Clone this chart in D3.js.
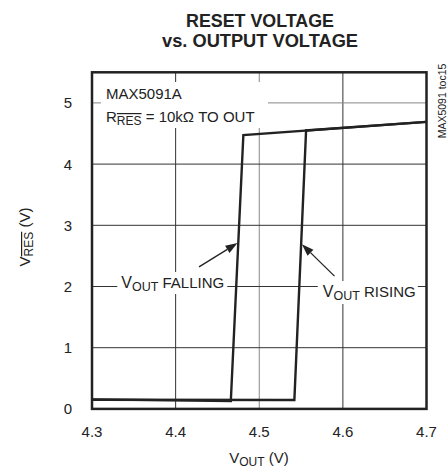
<!DOCTYPE html>
<html><head><meta charset="utf-8">
<script src="https://cdn.jsdelivr.net/npm/d3@7/dist/d3.min.js"></script>
<style>body{margin:0;background:#fff}svg{display:block}text{font-family:"Liberation Sans",Arial,sans-serif;fill:#222}</style>
</head><body><svg id="c" width="448" height="471"></svg>
<script>
// Data
const xTicks = [4.3, 4.4, 4.5, 4.6, 4.7];
const yTicks = [0, 1, 2, 3, 4, 5];
const fallingX = [4.70, 4.481, 4.466, 4.30];
const fallingY = [4.69, 4.475, 0.13, 0.155];
const risingX = [4.30, 4.542, 4.556, 4.70];
const risingY = [0.15, 0.145, 4.55, 4.69];

const svg = d3.select('#c');
const x = d3.scaleLinear().domain([4.3, 4.7]).range([92, 426.5]);
const y = d3.scaleLinear().domain([0, 5.5]).range([408.9, 72.3]);
const ink = '#222';

// gridlines
const g = svg.append('g');
g.selectAll('.vg').data(xTicks.slice(1, -1)).join('line')
  .attr('x1', d => x(d)).attr('x2', d => x(d)).attr('y1', y(5.5)).attr('y2', y(0))
  .attr('stroke', d => d === 4.5 ? '#888' : '#333').attr('stroke-width', 1);
g.selectAll('.hg').data(yTicks.slice(1)).join('line')
  .attr('x1', x(4.3)).attr('x2', x(4.7)).attr('y1', d => y(d)).attr('y2', d => y(d))
  .attr('stroke', d => d === 5 ? '#888' : '#333').attr('stroke-width', 1);

// white boxes behind labels
function box(x0, y0, w, h) {
  svg.append('rect').attr('x', x0).attr('y', y0).attr('width', w).attr('height', h).attr('fill', '#fff');
}
box(x(4.3) + 9, 82, 167, 46);

// curves
const line = d3.line().x(d => x(d[0])).y(d => y(d[1]));
const fall = fallingX.map((v, i) => [v, fallingY[i]]);
const rise = risingX.map((v, i) => [v, risingY[i]]);
svg.append('path').attr('d', line(fall)).attr('fill', 'none').attr('stroke', ink).attr('stroke-width', 2.4).attr('stroke-linejoin', 'miter');
svg.append('path').attr('d', line(rise)).attr('fill', 'none').attr('stroke', ink).attr('stroke-width', 2.4).attr('stroke-linejoin', 'miter');

// label boxes (break gridlines)
box(x(4.335) - 4, 272, 110, 22);
box(x(4.576) - 5, 281, 100, 23);

// frame
svg.append('rect').attr('x', x(4.3)).attr('y', y(5.5)).attr('width', x(4.7) - x(4.3)).attr('height', y(0) - y(5.5))
  .attr('fill', 'none').attr('stroke', ink).attr('stroke-width', 2.5);

// tick labels
svg.selectAll('.xt').data(xTicks).join('text')
  .attr('x', d => x(d)).attr('y', 437).attr('text-anchor', 'middle').attr('font-size', 15).text(d => d.toFixed(1));
svg.selectAll('.yt').data(yTicks).join('text')
  .attr('x', 72).attr('y', d => y(d) + 5.5).attr('text-anchor', 'end').attr('font-size', 15).text(d => d);

// title
svg.append('text').attr('x', 260).attr('y', 27).attr('text-anchor', 'middle').attr('font-size', 18).attr('font-weight', 'bold')
  .attr('textLength', 148).attr('lengthAdjust', 'spacingAndGlyphs').text('RESET VOLTAGE');
svg.append('text').attr('x', 260).attr('y', 47).attr('text-anchor', 'middle').attr('font-size', 18).attr('font-weight', 'bold')
  .attr('textLength', 196).attr('lengthAdjust', 'spacingAndGlyphs').text('vs. OUTPUT VOLTAGE');

// axis labels
const xl = svg.append('text').attr('x', 259).attr('y', 463).attr('text-anchor', 'middle').attr('font-size', 15);
xl.append('tspan').text('V');
xl.append('tspan').attr('font-size', 12).attr('dy', 3).text('OUT');
xl.append('tspan').attr('dy', -3).text(' (V)');

const yl = svg.append('text').attr('transform', 'translate(30,237) rotate(-90)').attr('text-anchor', 'middle').attr('font-size', 15);
yl.append('tspan').text('V');
yl.append('tspan').attr('font-size', 12).attr('dy', 3).attr('text-decoration', 'overline').text('RES');
yl.append('tspan').attr('dy', -3).text(' (V)');

// side id
svg.append('text').attr('transform', 'translate(445.5,101) rotate(-90)').attr('text-anchor', 'middle').attr('font-size', 10.5).text('MAX5091 toc15');

// annotations
svg.append('text').attr('x', 106).attr('y', 99).attr('font-size', 15).text('MAX5091A');
const r = svg.append('text').attr('x', 106).attr('y', 122).attr('font-size', 15);
r.append('tspan').text('R');
r.append('tspan').attr('font-size', 12).attr('dy', 3).attr('text-decoration', 'overline').text('RES');
r.append('tspan').attr('dy', -3).text(' = 10kΩ TO OUT');

const f = svg.append('text').attr('x', x(4.335)).attr('y', y(1.98)).attr('font-size', 15);
f.append('tspan').attr('font-size', 16).text('V');
f.append('tspan').attr('font-size', 12.5).attr('dy', 3).text('OUT');
f.append('tspan').attr('dy', -3).text(' FALLING');

const rs = svg.append('text').attr('x', x(4.576)).attr('y', y(1.83)).attr('font-size', 15);
rs.append('tspan').attr('font-size', 16).text('V');
rs.append('tspan').attr('font-size', 12.5).attr('dy', 3).text('OUT');
rs.append('tspan').attr('dy', -3).text(' RISING');

// arrows
function arrow(x0, y0, x1, y1) {
  const X0 = x(x0), Y0 = y(y0), X1 = x(x1), Y1 = y(y1);
  const a = Math.atan2(Y1 - Y0, X1 - X0), L = 12, W = 4.2;
  const bx = X1 - L * Math.cos(a), by = Y1 - L * Math.sin(a);
  svg.append('line').attr('x1', X0).attr('y1', Y0).attr('x2', bx).attr('y2', by).attr('stroke', ink).attr('stroke-width', 1.3);
  svg.append('path').attr('d', `M${X1},${Y1}L${bx - W * Math.sin(a)},${by + W * Math.cos(a)}L${bx + W * Math.sin(a)},${by - W * Math.cos(a)}Z`).attr('fill', ink);
}
arrow(4.428, 2.32, 4.474, 2.71);
arrow(4.590, 2.17, 4.551, 2.69);
</script></body></html>
